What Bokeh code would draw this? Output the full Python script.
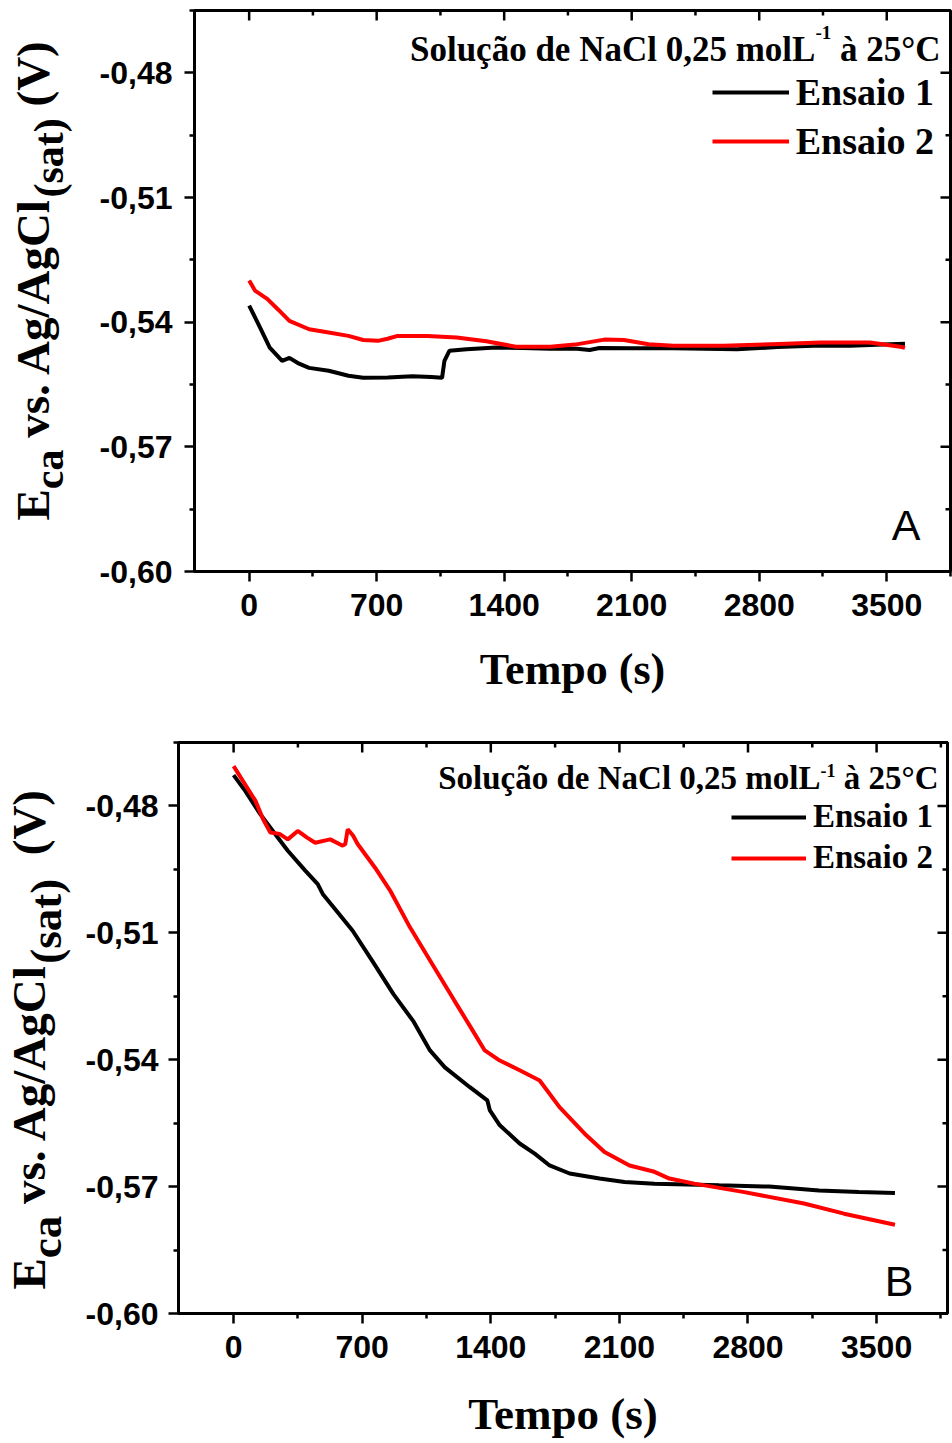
import math
from bokeh.plotting import figure
from bokeh.models import (Range1d, FixedTicker, Label, Legend, LegendItem,
                          CustomJSTickFormatter)
from bokeh.layouts import column, row
from bokeh.embed import file_html
from bokeh.resources import INLINE

# ---------------- data ----------------
x_ticks = [0, 700, 1400, 2100, 2800, 3500]
x_minor = [350, 1050, 1750, 2450, 3150, 3850]
x_tick_labels = ["0", "700", "1400", "2100", "2800", "3500"]
y_ticks = [-0.60, -0.57, -0.54, -0.51, -0.48]
y_minor = [-0.585, -0.555, -0.525, -0.495, -0.465]
y_tick_labels = ["-0,60", "-0,57", "-0,54", "-0,51", "-0,48"]

series_names = ["Ensaio 1", "Ensaio 2"]
series_colors = ["black", "#FF0000"]

a1_t = [0, 60, 113, 181, 221, 274, 329, 437, 545, 626, 761, 896, 1000, 1059, 1072, 1099,
        1194, 1355, 1500, 1652, 1800, 1869, 1923, 2100, 2328, 2500, 2679, 2900, 3138, 3300,
        3516, 3600]
a1_e = [-0.5360, -0.5413, -0.5461, -0.5493, -0.5486, -0.5500, -0.5510, -0.5517, -0.5529,
        -0.5534, -0.5533, -0.5530, -0.5532, -0.5534, -0.5493, -0.5469, -0.5465, -0.5461,
        -0.5462, -0.5464, -0.5464, -0.5467, -0.5462, -0.5463, -0.5463, -0.5464, -0.5465,
        -0.5460, -0.5456, -0.5457, -0.5453, -0.5452]

a2_t = [0, 32, 99, 160, 221, 329, 437, 545, 626, 707, 760, 815, 977, 1139, 1302, 1464,
        1653, 1788, 1950, 2058, 2193, 2328, 2603, 2868, 3138, 3408, 3583, 3600]
a2_e = [-0.5300, -0.5324, -0.5344, -0.5370, -0.5397, -0.5417, -0.5425, -0.5433, -0.5443,
        -0.5445, -0.5440, -0.5433, -0.5433, -0.5437, -0.5446, -0.5459, -0.5459, -0.5454,
        -0.5442, -0.5443, -0.5453, -0.5457, -0.5457, -0.5453, -0.5449, -0.5449, -0.5460,
        -0.5462]

b1_t = [0, 64, 146, 227, 295, 390, 458, 485, 553, 648, 760, 870, 980, 1069, 1150, 1286,
        1381, 1395, 1449, 1557, 1639, 1720, 1829, 1992, 2128, 2291, 2643, 2915, 3187, 3404,
        3600]
b1_e = [-0.4727, -0.4765, -0.4820, -0.4867, -0.4906, -0.4953, -0.4985, -0.5008, -0.5044,
        -0.5095, -0.5170, -0.5245, -0.5310, -0.5378, -0.5418, -0.5465, -0.5496, -0.5520,
        -0.5555, -0.5598, -0.5622, -0.5650, -0.5669, -0.5681, -0.5689, -0.5693, -0.5697,
        -0.5700, -0.5709, -0.5713, -0.5715]

b2_t = [0, 51, 119, 160, 200, 250, 295, 349, 400, 444, 526, 594, 608, 621, 650, 675, 770,
        852, 960, 1080, 1200, 1300, 1367, 1449, 1557, 1666, 1774, 1911, 2019, 2155, 2291,
        2372, 2508, 2780, 3105, 3323, 3600]
b2_e = [-0.4706, -0.4741, -0.4788, -0.4831, -0.4863, -0.4866, -0.4879, -0.4859, -0.4875,
        -0.4887, -0.4879, -0.4894, -0.4890, -0.4855, -0.4870, -0.4890, -0.4946, -0.5000,
        -0.5087, -0.5173, -0.5259, -0.5330, -0.5378, -0.5402, -0.5425, -0.5449, -0.5512,
        -0.5575, -0.5618, -0.5650, -0.5665, -0.5681, -0.5693, -0.5713, -0.5740, -0.5764,
        -0.5790]

note_parts = [("Solução de NaCl 0,25 molL", 0), ("-1", 1), (" à 25°C", 0)]
x_title = "Tempo (s)"
panel_letters = ["A", "B"]
Y_MIN, Y_MAX = -0.60, -0.465
X_MIN = -300

# ---------------- layout helpers ----------------
SERIF = "Liberation Serif"
SANS = "Liberation Sans"
TNRB = {' ': 250, 'S': 556, 'o': 500, 'l': 278, 'u': 556, 'ç': 444, 'ã': 500, 'd': 556,
        'e': 444, 'N': 722, 'a': 500, 'C': 722, '0': 500, ',': 250, '2': 500, '5': 500,
        'm': 833, 'L': 667, '-': 333, '1': 500, 'à': 500, '°': 400, 'E': 667, 'n': 556,
        's': 389, 'i': 278, 'v': 500, '.': 250, 'A': 722, 'g': 500, '/': 278, '(': 333,
        ')': 333, 't': 333, 'V': 722, 'c': 444, 'T': 667, 'p': 556}
BASE_FIX = 0.375  # observed baseline offset of rendered labels, in em


def tw(s, size):
    return sum(TNRB.get(ch, 500) for ch in s) * size / 1000.0


COMMON = dict(x_units="screen", y_units="screen", text_font=SERIF,
              text_font_style="bold", text_color="black", text_align="left",
              text_baseline="alphabetic")


def chain(target, pieces, start, along_x, angle=0.0):
    """Place text pieces one after another; leading blanks become offsets."""
    pos = start
    for txt, size, other in pieces:
        stripped = txt.lstrip(" ")
        pos += tw(txt[:len(txt) - len(stripped)], size)
        if along_x:
            kw = dict(x=pos, y=other + BASE_FIX * size)
        else:
            kw = dict(x=other - BASE_FIX * size, y=pos)
        target.add_layout(Label(text=stripped, angle=angle, text_font_size=f"{size}px",
                                **kw, **COMMON))
        pos += tw(stripped, size)


def make_title(cfg):
    w = cfg["tw"]
    t = figure(width=w, height=cfg["height"], x_range=Range1d(0, w),
               y_range=Range1d(0, cfg["height"]), output_backend="svg",
               toolbar_location=None, min_border=0, x_axis_type=None, y_axis_type=None,
               frame_align=False)
    t.grid.visible = False
    t.outline_line_color = None
    t.background_fill_color = "white"
    t.border_fill_color = "white"
    mf, subf, bx, sx = cfg["yt_fs"], cfg["yt_sub_fs"], cfg["yt_x"], cfg["yt_x"] + cfg["sub_shift"]
    pieces = [("E", mf, bx), ("ca", subf, sx), (" vs. Ag/AgCl", mf, bx), ("(sat)", subf, sx),
              (cfg["v_part"], mf, bx)]
    chain(t, pieces, cfg["yt_start"], along_x=False, angle=math.pi / 2)
    return t


def make_panel(cfg, s1, s2):
    xmax = cfg["xmax"]
    p = figure(width=952 - cfg["tw"], height=cfg["height"],
               x_range=Range1d(X_MIN, xmax), y_range=Range1d(Y_MIN, Y_MAX),
               output_backend="svg", toolbar_location=None, frame_align=False,
               min_border_left=cfg["bl"], min_border_right=cfg["br"],
               min_border_top=cfg["bt"], min_border_bottom=cfg["bb"])
    p.grid.visible = False
    p.outline_line_color = "black"
    p.outline_line_width = 3
    p.background_fill_color = "white"
    p.border_fill_color = "white"

    xa = p.xaxis[0]
    xa.ticker = FixedTicker(ticks=x_ticks, minor_ticks=x_minor)
    xa.major_label_overrides = dict(zip(x_ticks, x_tick_labels))
    ya = p.yaxis[0]
    ya.ticker = FixedTicker(ticks=y_ticks, minor_ticks=y_minor)
    ya.formatter = CustomJSTickFormatter(code="return tick.toFixed(2).replace('.', ',');")
    ya.major_label_overrides = dict(zip(y_ticks, y_tick_labels))

    for ax in (xa, ya):
        ax.axis_line_width = 3
        ax.major_tick_line_width = 2.5
        ax.minor_tick_line_width = 2.5
        ax.major_tick_out = 10
        ax.major_tick_in = 0
        ax.minor_tick_out = 5
        ax.minor_tick_in = 0
        ax.major_label_text_font = SANS
        ax.major_label_text_font_style = "bold"
        ax.major_label_text_font_size = "32px"
        ax.major_label_text_color = "black"
    xa.major_label_standoff = 12
    ya.major_label_standoff = cfg["ystand"]
    xa.axis_label = x_title
    xa.axis_label_text_font = SERIF
    xa.axis_label_text_font_style = "bold"
    xa.axis_label_text_font_size = cfg["xt_fs"]
    xa.axis_label_text_color = "black"
    xa.axis_label_standoff = cfg["title_standoff"]
    ya.axis_label = None

    # mirrored inward ticks on the top and right frame edges
    tick_style = dict(line_color="black", line_width=2.5, line_cap="butt", length_units="screen")
    p.ray(x=x_ticks, y=[Y_MAX] * len(x_ticks), length=10, angle=-math.pi / 2, **tick_style)
    p.ray(x=x_minor, y=[Y_MAX] * len(x_minor), length=5, angle=-math.pi / 2, **tick_style)
    p.ray(x=[xmax] * len(y_ticks), y=y_ticks, length=10, angle=math.pi, **tick_style)
    p.ray(x=[xmax] * len(y_minor), y=y_minor, length=5, angle=math.pi, **tick_style)

    r1 = p.line(s1[0], s1[1], line_color=series_colors[0], line_width=4)
    r2 = p.line(s2[0], s2[1], line_color=series_colors[1], line_width=4)

    fs = cfg["leg_fs"]
    lab_w = tw(series_names[0], fs)
    leg_w = cfg["glyph_w"] + 7 + lab_w
    legend = Legend(items=[LegendItem(label=series_names[0], renderers=[r1]),
                           LegendItem(label=series_names[1], renderers=[r2])],
                    location=(cfg["leg_right"] - leg_w, cfg["leg_bottom"]),
                    glyph_width=cfg["glyph_w"], glyph_height=30, label_height=30,
                    label_standoff=7, spacing=cfg["leg_spacing"], padding=0, margin=0,
                    border_line_color=None, background_fill_alpha=0,
                    label_text_font=SERIF, label_text_font_style="bold",
                    label_text_font_size=f"{fs}px", label_text_color="black")
    p.add_layout(legend)

    nf, sf = cfg["note_fs"], cfg["sup_fs"]
    pieces = [(txt, sf if sup else nf, cfg["sup_y"] if sup else cfg["note_y"])
              for txt, sup in note_parts]
    total = sum(tw(t, s) for t, s, _ in pieces)
    chain(p, pieces, cfg["note_right"] - total, along_x=True)

    p.add_layout(Label(x=cfg["let_x"], y=cfg["let_y"] + BASE_FIX * 43, x_units="screen",
                       y_units="screen", text=cfg["letter"], text_font=SANS,
                       text_font_size="43px", text_align="right", text_baseline="alphabetic",
                       text_color="black"))
    return p


# panel A: page frame 194..950 x 10..571 ; panel B: 178..947 x 742..1313
cfgA = dict(tw=90, height=720, xmax=3850, bl=104, br=2, bt=10, bb=149, ystand=12,
            title_standoff=26, xt_fs="44px",
            leg_fs=38, glyph_w=77, leg_right=740, leg_bottom=408, leg_spacing=5,
            note_fs=35, sup_fs=19, note_right=746, note_y=509, sup_y=532,
            yt_fs=47, yt_sub_fs=42, sub_shift=14, yt_x=50, yt_start=200, v_part=" (V)",
            letter=panel_letters[0], let_x=726, let_y=30)
cfgB = dict(tw=82, height=723, xmax=3886, bl=96, br=5, bt=22, bb=130, ystand=10,
            title_standoff=28, xt_fs="45px",
            leg_fs=33, glyph_w=75, leg_right=755, leg_bottom=437, leg_spacing=4,
            note_fs=33, sup_fs=18, note_right=760, note_y=523, sup_y=536,
            yt_fs=47, yt_sub_fs=45, sub_shift=16, yt_x=46, yt_start=154, v_part="  (V)",
            letter=panel_letters[1], let_x=735, let_y=16)

pA = make_panel(cfgA, (a1_t, a1_e), (a2_t, a2_e))
pB = make_panel(cfgB, (b1_t, b1_e), (b2_t, b2_e))
tA = make_title(cfgA)
tB = make_title(cfgB)

layout = column(row(tA, pA), row(tB, pB))
open("out.html", "w").write(file_html(layout, INLINE))
